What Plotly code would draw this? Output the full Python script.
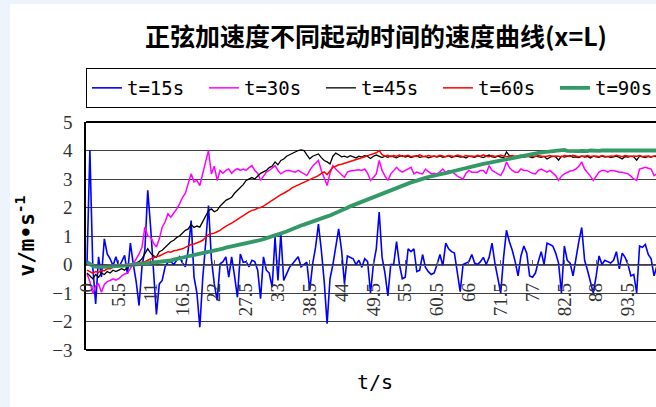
import plotly.graph_objects as go

# time categories (0.5 s step)
time_s = [round(0.5 * i, 1) for i in range(201)]

tick_values = [0, 5.5, 11, 16.5, 22, 27.5, 33, 38.5, 44, 49.5, 55, 60.5, 66, 71.5, 77, 82.5, 88, 93.5, 99]
tick_labels = ["0", "5.5", "11", "16.5", "22", "27.5", "33", "38.5", "44", "49.5", "55",
               "60.5", "66", "71.5", "77", "82.5", "88", "93.5", "99"]

series_names = ["t=15s", "t=30s", "t=45s", "t=60s", "t=90s"]

v_15 = [
    0.0, 4.02, -0.08, -1.38, 0.27, -0.44, 0.9, 0.37, 0.2, -0.04,
    0.27, -0.08, 0.1, 0.32, -0.33, 0.75, 0.02, -0.6, -1.44, -0.08,
    0.5, 2.6, 1.3, -0.3, -1.75, -0.68, -0.56, -0.08, 0.08, 0.1,
    0.0, 0.15, 0.27, 0.05, -0.08, 0.5, 1.54, -0.44, -1.0, -2.2,
    -0.5, 0.72, 2.07, 0.2, -0.68, -1.26, 0.02, 0.1, 0.27, -0.44,
    0.27, -0.4, -1.15, 0.37, 0.08, 0.1, -0.08, 0.15, 0.1, -0.2,
    -1.2, 0.27, -0.2, -0.3, -0.8, 0.96, -0.56, 1.08, -0.56, -0.33,
    -0.1, 0.02, 0.15, 0.27, -0.08, 0.0, 0.08, -0.91, 0.02, 0.6,
    1.42, 0.5, -0.6, -2.08, -0.5, 0.0, 0.6, 1.25, 0.5, -0.67,
    0.3, 0.25, 0.2, 0.0, 0.15, -0.1, 0.2, 0.1, -1.0, 0.0,
    0.55, 1.84, 0.25, -0.3, -1.1, 0.0, 0.0, 0.8, 0.0, -0.5,
    -0.45, 0.55, 0.45, 0.55, -0.25, -0.2, 0.35, -0.1, -0.25, -0.35,
    -0.3, 0.0, 0.35, -0.05, 0.75, 0.55, 0.45, 0.4, -0.25, -0.95,
    0.0, 0.05, 0.1, 0.35, 0.05, 0.0, 0.1, 0.25, 0.0, 0.25,
    0.75, 0.05, -0.55, -1.0, 0.25, 1.2, 0.8, 0.5, 0.1, -0.4,
    0.3, 0.65, 0.4, -0.4, -0.45, -0.3, 0.1, 0.45, 0.0, 0.75,
    0.7, 0.65, 0.4, 0.05, -1.0, 0.65, 0.15, 0.05, -0.4, 0.25,
    0.8, 1.3, 0.15, -0.2, -0.6, -1.0, -0.4, 0.3, 0.0, 0.15,
    0.1, 0.05, 0.15, 0.45, -0.15, 0.4, 0.25, 0.0, -0.4, -0.35,
    -1.0, 0.65, 0.6, 0.7, 0.35, 0.2, -0.4, 0.0, 0.3, -0.2,
    0.2,
]

v_30 = [
    -0.33, -0.6, -1.03, -0.75, -0.68, -0.97, -0.7, -0.6, -0.56, -0.5,
    -0.55, -0.5, -0.4, -0.33, -0.3, -0.15, 0.02, 0.2, 0.37, 0.6,
    1.31, 1.0, 0.96, 0.75, 0.61, 0.9, 1.31, 1.5, 1.78, 1.66,
    1.8, 1.95, 2.13, 2.35, 2.5, 2.8, 3.18, 2.9, 2.95, 2.77,
    3.24, 3.6, 4.0, 3.18, 3.45, 2.95, 3.3, 3.2, 3.3, 3.35,
    3.2, 3.3, 3.36, 3.3, 3.35, 3.3, 3.4, 3.47, 3.3, 3.2,
    2.95, 3.1, 3.24, 3.3, 3.4, 3.47, 3.3, 3.18, 3.25, 3.3,
    3.3, 3.28, 3.24, 3.3, 3.24, 3.2, 3.12, 3.3, 3.45, 3.55,
    3.65, 3.3, 3.06, 2.77, 3.2, 3.47, 3.35, 3.24, 3.15, 3.06,
    3.24, 3.28, 3.3, 3.3, 3.32, 3.3, 3.35, 3.2, 2.95, 3.05,
    3.18, 3.65, 3.3, 3.1, 2.95, 3.18, 3.3, 3.41, 3.3, 3.24,
    3.3, 3.35, 3.41, 3.18, 3.24, 3.2, 3.18, 3.35, 3.25, 3.18,
    3.2, 3.18, 3.25, 3.35, 3.24, 3.3, 3.27, 3.18, 3.1, 3.05,
    3.0, 3.2, 3.3, 3.24, 3.24, 3.24, 3.3, 3.3, 3.18, 3.47,
    3.3, 3.24, 3.2, 3.12, 3.3, 3.6, 3.4, 3.3, 3.24, 3.24,
    3.35, 3.3, 3.3, 3.24, 3.2, 3.18, 3.3, 3.35, 3.3, 3.24,
    3.3, 3.2, 3.12, 2.95, 3.1, 3.18, 3.24, 3.28, 3.3, 3.35,
    3.45, 3.6, 3.35, 3.24, 3.1, 2.95, 3.1, 3.24, 3.3, 3.3,
    3.24, 3.3, 3.3, 3.27, 3.24, 3.24, 3.2, 3.18, 3.1, 3.0,
    2.95, 3.35, 3.38, 3.41, 3.38, 3.35, 3.12, 3.18, 3.25, 3.2,
    3.2,
]

v_45 = [
    -0.3, -0.4, -0.5, -0.35, -0.45, -0.3, -0.35, -0.25, -0.3, -0.2,
    -0.25, -0.2, -0.15, -0.2, -0.1, -0.05, 0.0, 0.05, 0.1, 0.2,
    0.4, 0.55, 0.4, 0.3, 0.26, 0.45, 0.5, 0.6, 0.7, 0.8,
    0.85, 0.95, 1.0, 1.1, 1.2, 1.25, 1.4, 1.3, 1.35, 1.31,
    1.5, 1.7, 1.89, 1.95, 1.85, 1.9, 2.05, 2.15, 2.25, 2.3,
    2.36, 2.5, 2.6, 2.7, 2.8, 2.95, 3.0, 3.05, 3.0, 3.1,
    3.2, 3.25, 3.3, 3.4, 3.45, 3.6, 3.5, 3.65, 3.7, 3.8,
    3.85, 3.9, 3.95, 4.0, 4.02, 4.0, 3.85, 3.71, 3.8, 3.85,
    3.88, 3.75, 3.65, 3.6, 3.53, 3.8, 3.91, 3.85, 3.78, 3.8,
    3.76, 3.82, 3.78, 3.74, 3.8, 3.77, 3.83, 3.79, 3.72, 3.8,
    3.84, 3.78, 3.75, 3.8, 3.76, 3.81, 3.78, 3.74, 3.79, 3.82,
    3.77, 3.8, 3.75, 3.78, 3.82, 3.76, 3.79, 3.8, 3.74, 3.78,
    3.8, 3.77, 3.81, 3.76, 3.78, 3.82, 3.75, 3.79, 3.8, 3.77,
    3.78, 3.74, 3.8, 3.79, 3.76, 3.81, 3.78, 3.75, 3.8, 3.84,
    3.78, 3.76, 3.8, 3.77, 3.74, 3.95, 3.82, 3.78, 3.75, 3.8,
    3.79, 3.76, 3.81, 3.77, 3.74, 3.8, 3.78, 3.76, 3.8, 3.7,
    3.76, 3.8, 3.78, 3.66, 3.8, 3.77, 3.79, 3.82, 3.76, 3.78,
    3.75, 3.8, 3.77, 3.79, 3.74, 3.8, 3.78, 3.76, 3.81, 3.77,
    3.79, 3.75, 3.78, 3.8, 3.76, 3.7, 3.79, 3.77, 3.8, 3.78,
    3.66, 3.8, 3.78, 3.75, 3.79, 3.77, 3.8, 3.78, 3.76, 3.79,
    3.78,
]

v_60 = [
    -0.2, -0.25, -0.3, -0.25, -0.28, -0.2, -0.22, -0.15, -0.15, -0.1,
    -0.1, -0.05, -0.05, 0.0, 0.0, 0.02, 0.0, 0.05, 0.05, 0.08,
    0.1, 0.15, 0.2, 0.25, 0.28, 0.3, 0.35, 0.4, 0.45, 0.43,
    0.48, 0.5, 0.52, 0.55, 0.6, 0.65, 0.7, 0.72, 0.75, 0.8,
    0.85, 0.95, 1.05, 1.08, 1.1, 1.15, 1.2, 1.28, 1.35, 1.4,
    1.45, 1.52, 1.6, 1.65, 1.72, 1.8, 1.85, 1.9, 1.92, 1.98,
    2.0, 2.05, 2.12, 2.2, 2.25, 2.32, 2.38, 2.45, 2.5, 2.55,
    2.62, 2.7, 2.75, 2.8, 2.85, 2.9, 2.95, 3.0, 3.05, 3.08,
    3.12, 3.2, 3.25, 3.15, 3.3, 3.42, 3.45, 3.5, 3.52, 3.55,
    3.58, 3.62, 3.65, 3.68, 3.7, 3.75, 3.78, 3.82, 3.85, 3.88,
    3.92, 4.0, 3.85, 3.8, 3.83, 3.78, 3.82, 3.8, 3.84, 3.79,
    3.8, 3.83, 3.78, 3.81, 3.79, 3.85, 3.8, 3.78, 3.82, 3.8,
    3.81, 3.79, 3.83, 3.8, 3.78, 3.82, 3.8, 3.79, 3.84, 3.8,
    3.78, 3.82, 3.8, 3.81, 3.79, 3.83, 3.8, 3.85, 3.8, 3.78,
    3.82, 3.79, 3.8, 3.83, 3.81, 3.78, 3.8, 3.82, 3.79, 3.8,
    3.83, 3.8, 3.78, 3.81, 3.8, 3.79, 3.82, 3.8, 3.78, 3.8,
    3.82, 3.79, 3.81, 3.8, 3.78, 3.82, 3.8, 3.79, 3.83, 3.8,
    3.78, 3.81, 3.8, 3.82, 3.79, 3.8, 3.81, 3.78, 3.82, 3.8,
    3.79, 3.81, 3.8, 3.83, 3.8, 3.78, 3.82, 3.8, 3.79, 3.81,
    3.8, 3.82, 3.79, 3.8, 3.81, 3.78, 3.8, 3.82, 3.8, 3.79,
    3.8,
]

v_90 = [
    0.08, 0.02, -0.05, -0.07, -0.08, -0.08, -0.08, -0.07, -0.07, -0.06,
    -0.05, -0.05, -0.04, -0.04, -0.03, -0.02, 0.0, 0.01, 0.02, 0.04,
    0.05, 0.05, 0.06, 0.06, 0.06, 0.08, 0.09, 0.1, 0.12, 0.14,
    0.17, 0.2, 0.22, 0.24, 0.27, 0.29, 0.31, 0.33, 0.35, 0.37,
    0.4, 0.42, 0.45, 0.47, 0.5, 0.52, 0.54, 0.56, 0.59, 0.61,
    0.63, 0.65, 0.68, 0.7, 0.72, 0.74, 0.76, 0.78, 0.8, 0.83,
    0.86, 0.89, 0.92, 0.95, 0.98, 1.01, 1.05, 1.08, 1.12, 1.16,
    1.2, 1.25, 1.29, 1.33, 1.37, 1.4, 1.44, 1.48, 1.51, 1.55,
    1.58, 1.62, 1.65, 1.69, 1.72, 1.76, 1.8, 1.85, 1.9, 1.95,
    1.99, 2.04, 2.08, 2.13, 2.18, 2.22, 2.26, 2.3, 2.35, 2.39,
    2.43, 2.47, 2.51, 2.55, 2.59, 2.63, 2.67, 2.7, 2.74, 2.77,
    2.81, 2.84, 2.88, 2.91, 2.95, 2.98, 3.01, 3.04, 3.07, 3.1,
    3.12, 3.14, 3.17, 3.19, 3.21, 3.24, 3.26, 3.28, 3.31, 3.33,
    3.36, 3.38, 3.41, 3.43, 3.46, 3.48, 3.5, 3.53, 3.55, 3.57,
    3.59, 3.61, 3.64, 3.66, 3.68, 3.71, 3.73, 3.75, 3.77, 3.8,
    3.82, 3.84, 3.86, 3.88, 3.89, 3.9, 3.92, 3.93, 3.94, 3.95,
    3.96, 3.97, 3.98, 3.98, 4.0, 4.02, 3.99, 3.98, 3.97, 3.98,
    3.98, 3.99, 3.97, 3.98, 4.0, 3.99, 3.98, 3.99, 4.0, 4.0,
    4.0, 3.99, 4.01, 4.0, 3.99, 4.0, 4.01, 4.0, 4.0, 3.99,
    4.0, 4.01, 4.0, 3.99, 4.0, 4.01, 4.0, 4.0, 4.01, 4.0,
    4.0,
]

series_values = [v_15, v_30, v_45, v_60, v_90]
series_colors = ["#0000FF", "#FF00FF", "#000000", "#FF0000", "#339966"]
series_widths = [1.6, 1.5, 1.3, 1.5, 3.8]

fig = go.Figure()
for name, vals, col, w in zip(series_names, series_values, series_colors, series_widths):
    fig.add_trace(go.Scatter(x=time_s, y=vals, mode="lines", name=name,
                             line=dict(color=col, width=w)))

serif = "Liberation Serif"
mono = "DejaVu Sans Mono"

# geometry helpers (paper fractions)
L, R, T, B, W, H = 86, 0, 122, 57, 656, 407
pw = W - L - R
ph = H - T - B

def px_x(px):
    return (px - L) / pw

def px_y(py):
    return (H - B - py) / ph

fig.update_layout(
    width=W, height=H,
    margin=dict(l=L, r=R, t=T, b=B, autoexpand=False),
    paper_bgcolor="#EEF4FC",
    plot_bgcolor="#FFFFFF",
    title=dict(text="正弦加速度不同起动时间的速度曲线(x=L)",
               font=dict(family="Noto Sans CJK SC", size=25, color="#000000", weight="bold"),
               x=376 / W, xanchor="center", y=1 - 37 / H, yanchor="middle",
               xref="container", yref="container"),
    showlegend=True,
    legend=dict(orientation="h", x=-0.0001, xanchor="left", y=px_y(68), yanchor="top",
                bgcolor="#FFFFFF", bordercolor="#000000", borderwidth=1,
                font=dict(family=mono, size=19, color="#000000"),
                entrywidth=72, entrywidthmode="pixels", itemwidth=30,
                traceorder="normal"),
    xaxis=dict(range=[-0.17, 98.34], anchor="free", position=0.375,
               showline=True, linecolor="#606060", linewidth=1,
               tickmode="array", tickvals=tick_values, ticktext=tick_labels,
               tickangle=-90, ticks="inside", ticklen=5, tickcolor="#606060",
               tickfont=dict(family=serif, size=19, color="#333333"),
               ticklabelstandoff=10,
               showgrid=False, zeroline=False),
    yaxis=dict(range=[-3, 5], tick0=0, dtick=1, showgrid=True,
               gridcolor="#404040", gridwidth=1, zeroline=False,
               showline=True, linecolor="#000000", linewidth=1.5, ticks="",
               tickfont=dict(family=serif, size=19, color="#333333"),
               ticklabelstandoff=8,
               title=dict(text="v/m•s<sup>-1</sup>",
                          font=dict(family=mono, size=21, color="#000000", weight="bold"),
                          standoff=12)),
    shapes=[
        dict(type="rect", xref="paper", yref="paper", x0=px_x(10), x1=1.1,
             y0=px_y(H + 20), y1=px_y(4), fillcolor="#FFFFFF", line=dict(width=0),
             layer="below"),
        dict(type="line", xref="paper", yref="paper", x0=0, x1=1.05, y0=1, y1=1,
             line=dict(color="#000000", width=2)),
        dict(type="line", xref="paper", yref="paper", x0=0, x1=1.05, y0=0, y1=0,
             line=dict(color="#000000", width=2)),
    ],
    annotations=[
        dict(text="t/s", xref="paper", yref="paper", x=px_x(375), y=px_y(382),
             xanchor="center", yanchor="middle", showarrow=False,
             font=dict(family=mono, size=20, color="#000000")),
    ],
)

fig.write_html("out.html", config={"displayModeBar": False},
               post_script="document.body.style.margin='0';document.body.style.background='#EEF4FC';")
